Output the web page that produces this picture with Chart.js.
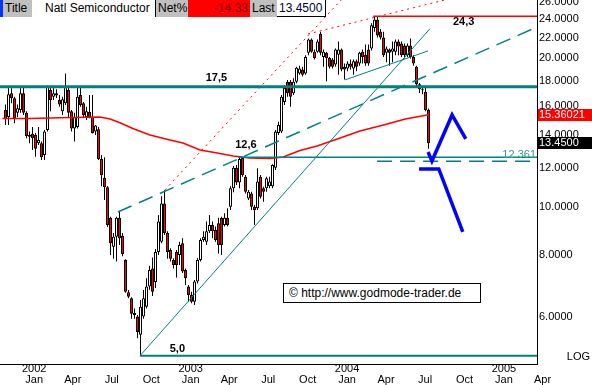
<!DOCTYPE html>
<html>
<head>
<meta charset="utf-8">
<title>Natl Semiconductor</title>
<script src="https://cdn.jsdelivr.net/npm/chart.js@4.4.1/dist/chart.umd.min.js"></script>
<style>
  html, body { margin: 0; padding: 0; background: #fff; }
  #wrap { position: relative; width: 592px; height: 385px; overflow: hidden;
          font-family: Arial, "Liberation Sans", sans-serif; }
  #chart { position: absolute; left: 0; top: 0; }
  .cell { position: absolute; top: 0; height: 17px; line-height: 17px; font-size: 12px;
          box-sizing: border-box; white-space: nowrap; color: #000; }
  #copy { position: absolute; left: 283px; top: 283px; width: 198px; height: 20px; box-sizing: border-box;
          border: 1px solid #000; background: #fff; font-size: 12px; line-height: 18px; padding-left: 5px; }
</style>
</head>
<body>
<div id="wrap">
  <canvas id="chart" width="592" height="385"></canvas>
  <div class="cell" style="left:0;width:3px;background:#0033ff"></div>
  <div class="cell" style="left:3px;width:29px;background:#c0c0c0;padding-left:2px">Title</div>
  <div class="cell" style="left:32px;width:124px;background:#fff;border-right:1px solid #000;padding-left:13px">Natl Semiconductor</div>
  <div class="cell" style="left:156px;width:32px;background:#c0c0c0;padding-left:2px">Net%</div>
  <div class="cell" style="left:188px;width:62px;background:#ff0000;color:#800000;text-align:right;padding-right:2px">-14.33</div>
  <div class="cell" style="left:250px;width:27px;background:#c0c0c0;padding-left:2px">Last</div>
  <div class="cell" style="left:277px;width:49px;background:#fff;border-right:1px solid #000;border-bottom:1px solid #000;padding-left:2px;color:#000033">13.4500</div>
  <div id="copy">&copy; http://www.godmode-trader.de</div>
</div>
<script>
// weekly bars, first bar dated 2001-10-26, x values are days after it
const firstBar = Date.UTC(2001, 9, 26);
const DAY = 86400000;

const opens = [
  15.70, 15.20, 16.97, 16.58, 15.50, 15.70, 16.97, 15.50, 13.86, 14.05,
  13.97, 13.45, 13.45, 12.73, 14.30, 17.23, 16.70, 16.97, 16.45, 15.60,
  16.20, 17.23, 15.60, 14.40, 14.50, 16.84, 16.20, 15.20, 15.55, 15.20,
  14.20, 14.35, 12.50, 11.45, 10.95, 9.50, 8.30, 8.70, 9.50, 8.74,
  7.81, 6.72, 6.53, 6.04, 6.00, 5.51, 6.00, 6.28, 6.90, 7.50,
  7.05, 8.10, 8.50, 10.16, 8.85, 8.18, 7.81, 8.10, 7.99, 8.44,
  7.45, 6.90, 6.63, 6.43, 7.06, 7.81, 8.57, 8.50, 8.93, 9.19,
  8.98, 9.26, 9.50, 9.19, 9.50, 10.00, 10.90, 12.00, 11.20, 12.55,
  11.50, 10.40, 10.64, 10.00, 9.93, 11.50, 10.90, 10.90, 11.00, 11.00,
  12.00, 14.10, 14.20, 16.30, 17.90, 17.90, 16.97, 17.90, 18.60, 18.95,
  18.60, 20.50, 21.80, 20.60, 20.60, 22.40, 20.10, 20.50, 20.00, 19.85,
  19.40, 20.30, 20.80, 19.20, 19.05, 19.50, 19.05, 19.70, 19.50, 20.60,
  20.30, 20.80, 20.90, 23.00, 23.90, 22.60, 22.00, 20.50, 20.80, 20.60,
  20.60, 21.60, 21.40, 21.20, 20.25, 21.20, 20.10, 19.20, 17.70, 17.20,
  17.10, 15.70
];
const highs = [
  16.10, 17.50, 17.37, 16.70, 16.10, 17.50, 17.40, 15.60, 14.20, 14.50,
  14.10, 14.50, 13.55, 14.30, 17.60, 17.50, 17.40, 17.30, 16.84, 16.70,
  18.60, 17.40, 15.70, 15.50, 17.40, 17.40, 16.30, 15.94, 16.84, 16.84,
  14.64, 14.50, 12.73, 12.60, 11.00, 9.55, 8.85, 9.55, 9.80, 8.85,
  7.83, 6.79, 6.56, 6.23, 6.04, 6.48, 6.79, 7.17, 7.60, 7.90,
  8.22, 9.63, 10.50, 10.80, 8.93, 8.25, 7.87, 8.18, 8.50, 8.64,
  7.50, 6.95, 6.73, 7.11, 7.87, 8.64, 8.93, 9.34, 9.63, 9.34,
  9.12, 9.50, 9.55, 9.70, 9.93, 11.00, 12.10, 12.15, 12.60, 12.62,
  11.60, 10.82, 10.73, 10.09, 11.97, 11.60, 10.98, 11.50, 11.50, 12.20,
  14.30, 14.87, 16.84, 17.64, 18.05, 18.05, 18.20, 19.20, 19.30, 19.20,
  20.25, 21.90, 21.90, 20.80, 21.80, 22.60, 20.80, 20.60, 20.10, 20.00,
  20.90, 21.60, 20.90, 19.50, 19.70, 19.85, 19.85, 19.85, 20.60, 20.80,
  21.30, 21.30, 23.50, 24.30, 24.30, 22.90, 22.60, 21.10, 20.90, 21.60,
  21.80, 21.80, 21.60, 21.40, 21.40, 21.90, 20.25, 19.30, 17.80, 17.40,
  17.40, 15.80
];
const lows = [
  14.64, 14.64, 16.20, 14.75, 15.20, 15.50, 15.34, 13.76, 13.45, 13.03,
  12.62, 13.34, 12.44, 12.44, 14.20, 15.60, 16.45, 16.60, 15.94, 15.34,
  16.07, 15.20, 14.20, 13.55, 14.40, 15.94, 15.20, 14.99, 15.10, 14.07,
  13.97, 12.44, 11.00, 10.32, 9.10, 7.99, 7.85, 7.75, 8.37, 7.94,
  6.70, 6.53, 5.94, 5.94, 5.42, 5.00, 5.94, 6.23, 6.80, 6.60,
  6.85, 7.99, 8.44, 8.77, 7.85, 7.75, 7.50, 7.20, 7.63, 7.35,
  6.95, 6.43, 6.38, 6.33, 7.00, 7.75, 8.50, 8.37, 8.85, 8.64,
  8.50, 8.05, 7.99, 9.12, 9.12, 9.85, 10.70, 11.07, 10.90, 11.50,
  10.64, 10.32, 9.85, 9.19, 9.85, 10.40, 10.24, 10.73, 10.90, 10.90,
  11.87, 13.97, 14.10, 16.07, 16.70, 15.94, 16.84, 17.78, 18.50, 18.35,
  18.50, 20.25, 20.50, 19.85, 20.50, 20.25, 19.20, 17.95, 19.05, 19.05,
  19.20, 18.50, 18.80, 18.10, 18.80, 18.95, 18.50, 18.80, 19.30, 19.50,
  19.30, 19.30, 20.70, 22.60, 22.00, 21.80, 20.10, 19.60, 19.30, 19.60,
  20.25, 20.25, 20.10, 19.95, 20.10, 19.95, 19.30, 17.40, 17.00, 16.90,
  15.60, 13.10
];
const closes = [
  15.04, 16.90, 16.58, 15.10, 15.83, 16.97, 15.50, 13.90, 13.97, 13.76,
  13.10, 13.65, 12.60, 14.20, 17.50, 16.45, 16.97, 16.80, 16.10, 16.50,
  17.50, 15.50, 14.40, 15.20, 16.70, 16.07, 15.34, 15.60, 15.20, 14.10,
  14.60, 12.50, 11.60, 10.95, 9.19, 8.44, 8.70, 9.50, 8.64, 8.03,
  6.73, 6.58, 6.08, 6.10, 5.58, 6.28, 6.53, 6.90, 7.45, 6.73,
  8.10, 9.34, 10.16, 8.85, 8.10, 7.85, 7.63, 7.63, 8.37, 7.40,
  7.17, 6.63, 6.43, 7.06, 7.81, 8.57, 8.70, 8.93, 9.19, 8.93,
  8.57, 8.37, 8.37, 9.50, 9.19, 10.90, 12.00, 11.20, 12.50, 11.60,
  10.73, 10.73, 10.00, 9.85, 11.25, 10.48, 10.73, 11.42, 11.25, 12.15,
  14.20, 14.64, 16.70, 17.40, 16.97, 16.70, 17.90, 19.10, 19.04, 18.50,
  20.10, 21.80, 20.60, 20.00, 21.60, 20.50, 20.60, 20.00, 19.20, 19.20,
  20.80, 20.80, 18.95, 18.95, 19.50, 19.20, 19.70, 19.20, 20.50, 20.10,
  19.50, 19.50, 23.30, 23.90, 22.20, 22.00, 20.25, 20.90, 20.50, 20.90,
  21.60, 21.10, 20.25, 20.25, 21.20, 20.10, 19.50, 17.70, 17.30, 17.30,
  15.70, 13.45
];

// moving average
const maDays = [-7, 57, 127, 220, 244, 267, 297, 337, 384, 414, 454, 494,
  531, 570, 617, 648, 687, 727, 781, 827, 882, 933, 987];
const maValues = [15.09, 15.09, 15.15, 15.20, 15.05, 14.79, 14.40, 13.97, 13.65, 13.46, 13.03, 12.85,
  12.67, 12.55, 12.52, 12.61, 13.00, 13.28, 13.78, 14.24, 14.64, 15.05, 15.36021];

// drawn lines: [day, price] pairs
const xMin = -12.8333, xMax = 1240.1667;
const level175 = [[xMin, 17.5], [xMax, 17.5]];
const level243 = [[858, 24.3], [xMax, 24.3]];
const level126 = [[543, 12.6], [xMax, 12.6]];
const level12361 = [[867, 12.361], [xMax, 12.361]];
const level50 = [[314, 5.0], [xMax, 5.0]];
const supportLine = [[314, 5.0], [990, 22.9]];
const channelLine = [[262, 9.76], [xMax, 23.1]];
const neckLine = [[792, 18.06], [986, 20.67]];
const redSteep = [[372, 10.82], [797, 27]];
const redUpper = [[706, 22.37], [1085, 27]];
const arrowUp = [[986, 12.91], [995, 12.38], [1042, 15.34], [1074, 13.72]];
const arrowDown = [[965, 11.93], [1011, 11.93], [1067, 8.90]];

const yTicks = [6, 8, 10, 12, 14, 16, 18, 20, 22, 24, 26];
const tickYears = [2002, 2003, 2004, 2005];
const tickMonths = ['Jan', 'Apr', 'Jul', 'Oct'];

const captionText = ['17,5', '24,3', '12,6', '5,0'];
const captionDays = [492, 1069, 561, 401];
const captionValues = [17.5, 24.3, 12.6, 5.0];
const captionShift = [-9, 6, -12, -7];

const markerValues = [15.36021, 13.45];
const markerDigits = [5, 4];
const markerColors = ['#ff0000', '#000000'];

const FONT = 'Arial, "Liberation Sans", sans-serif';
const TEAL = '#008080';

function pts(list) {
  return list.map(p => ({ x: p[0], y: p[1] }));
}
function line(list, color, width, dash) {
  return {
    type: 'line', data: pts(list), borderColor: color, borderWidth: width,
    borderDash: dash || [], pointRadius: 0, tension: 0, fill: false, order: 0
  };
}

const days = opens.map((o, i) => i * 7);

const overlay = {
  id: 'overlay',
  afterDraw(chart) {
    const { ctx, chartArea: area, scales: { x, y } } = chart;
    ctx.save();
    ctx.textBaseline = 'middle';

    // captions of the levels
    ctx.font = 'bold 11px ' + FONT;
    ctx.fillStyle = '#000';
    ctx.textAlign = 'center';
    captionText.forEach((t, i) => {
      ctx.fillText(t, x.getPixelForValue(captionDays[i]), y.getPixelForValue(captionValues[i]) + captionShift[i]);
    });

    ctx.font = '11px ' + FONT;
    ctx.fillStyle = '#3a9595';
    ctx.textAlign = 'right';
    ctx.fillText('12.361', area.right - 1, y.getPixelForValue(12.361) - 6);

    // date labels under the axis
    ctx.fillStyle = '#000';
    ctx.textAlign = 'center';
    tickYears.forEach(yr => {
      tickMonths.forEach((m, q) => {
        if (yr === 2005 && q > 1) return;
        const d = (Date.UTC(yr, q * 3, 1) - firstBar) / DAY;
        const px = x.getPixelForValue(d);
        if (q === 0) ctx.fillText(String(yr), px, area.bottom + 5);
        ctx.fillText(m, px, area.bottom + 15.5);
      });
    });

    ctx.textAlign = 'right';
    ctx.fillText('LOG', chart.width - 2, area.bottom - 7);

    // value boxes on the price axis
    ctx.textAlign = 'left';
    markerValues.forEach((v, i) => {
      const py = y.getPixelForValue(v);
      ctx.fillStyle = markerColors[i];
      ctx.fillRect(area.right + 1, Math.round(py) - 6, chart.width - area.right - 1, 12);
      ctx.fillStyle = '#fff';
      ctx.fillText(v.toFixed(markerDigits[i]), area.right + 2, Math.round(py));
    });
    ctx.restore();
  }
};

new Chart(document.getElementById('chart'), {
  type: 'bar',
  data: {
    datasets: [
      line(arrowUp, '#0000ff', 3.5),
      line(arrowDown, '#0000ff', 3.5),
      line(level175, TEAL, 3),
      line(level243, '#ff0000', 1.5),
      line(level126, TEAL, 1.5),
      line(level12361, TEAL, 1.5, [15, 8]),
      line(level50, TEAL, 2),
      line(supportLine, TEAL, 1),
      line(channelLine, TEAL, 1.5, [15, 8]),
      line(neckLine, TEAL, 1),
      line(redSteep, '#ff0000', 1, [2, 4]),
      line(redUpper, '#ff0000', 1, [2, 4]),
      {
        type: 'line',
        data: maDays.map((d, i) => ({ x: d, y: maValues[i] })),
        borderColor: '#ff0000', borderWidth: 1.5, pointRadius: 0, tension: 0, fill: false, order: 0
      },
      {
        label: 'body',
        data: days.map((d, i) => ({ x: d, y: [opens[i], closes[i]] })),
        backgroundColor: closes.map((c, i) => c >= opens[i] ? '#ffffff' : '#ff0000'),
        borderColor: '#000',
        borderWidth: 1,
        borderSkipped: false,
        barThickness: 3,
        minBarLength: 1,
        inflateAmount: 0,
        grouped: false,
        order: 1
      },
      {
        label: 'wick',
        data: days.map((d, i) => ({ x: d, y: [lows[i], highs[i]] })),
        backgroundColor: '#000',
        borderWidth: 0,
        barThickness: 1,
        inflateAmount: 0,
        grouped: false,
        order: 2
      }
    ]
  },
  options: {
    responsive: false,
    animation: false,
    events: [],
    layout: { padding: 0 },
    plugins: { legend: { display: false }, tooltip: { enabled: false } },
    scales: {
      x: {
        type: 'linear',
        min: xMin,
        max: xMax,
        offset: false,
        grid: { display: false, drawTicks: false, offset: false },
        border: { display: true, color: '#000', width: 1 },
        ticks: { display: false },
        afterFit(scale) { scale.height = 21; scale.paddingLeft = 0; scale.paddingRight = 0; }
      },
      y: {
        type: 'logarithmic',
        position: 'right',
        min: 4.81,
        max: 26.2,
        beginAtZero: false,
        grid: { display: false, drawTicks: false },
        border: { display: true, color: '#000', width: 1 },
        ticks: {
          autoSkip: false,
          padding: 2,
          color: '#000',
          font: { size: 11, family: FONT },
          callback: v => Number(v).toFixed(4)
        },
        afterBuildTicks(scale) { scale.ticks = yTicks.map(v => ({ value: v })); },
        afterFit(scale) { scale.width = 55; scale.paddingTop = 0; scale.paddingBottom = 0; }
      }
    }
  },
  plugins: [overlay]
});
</script>
</body>
</html>
